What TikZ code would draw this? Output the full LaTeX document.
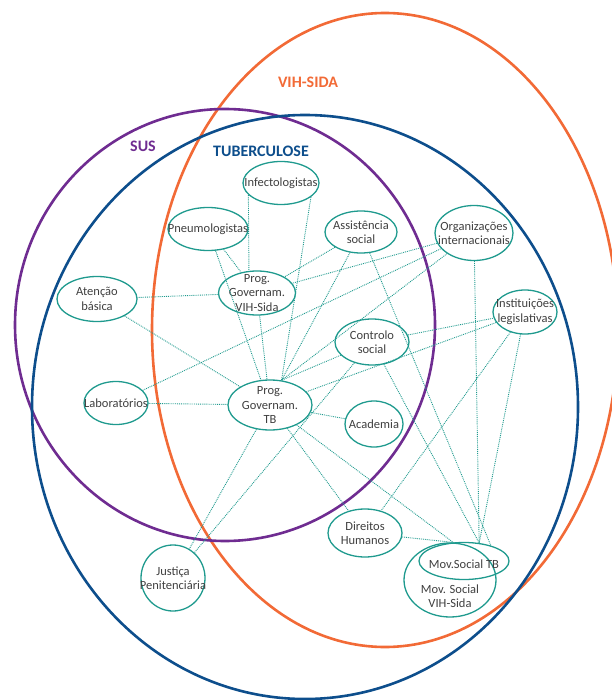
\documentclass[tikz,border=0pt]{standalone}
\usepackage{fontspec}
\setmainfont{Carlito}
\usetikzlibrary{shapes.geometric}
\definecolor{susc}{HTML}{6F2C91}
\definecolor{tbc}{HTML}{0D4E8C}
\definecolor{vihc}{HTML}{F26A36}
\definecolor{netc}{HTML}{1F9A8E}
\definecolor{txtc}{HTML}{3F3F3F}

\begin{document}
\begin{tikzpicture}[x=1pt, y=-1pt,
  every node/.style={font=\fontsize{12.5}{14.5}\selectfont},
  bubble/.style 2 args={ellipse, draw=netc, line width=1.3pt, minimum width=#1, minimum height=#2, inner sep=0pt},
  txt/.style={text=txtc, align=center},
  link/.style={netc, densely dotted, line width=0.9pt},
  ring/.style={line width=2.6pt},
  title/.style={font=\fontsize{16}{18}\selectfont\bfseries}]
\useasboundingbox (0,0) rectangle (611,700);
% the three fields
\draw[ring, vihc] (385,330) ellipse [x radius=233, y radius=317];
\draw[ring, susc] (225,325) ellipse [x radius=210, y radius=216];
\draw[ring, tbc] (305,407) ellipse [x radius=273, y radius=292];
\node[title, vihc] (vihlbl) at (308,82) {VIH-SIDA};
\node[title, susc] (suslbl) at (143,146) {SUS};
\node[title, tbc] (tblbl) at (261,151) {TUBERCULOSE};

% actors
\node[bubble={76}{43}, label={[txt]center:Infectologistas}] (infect) at (281,183) {};
\node[bubble={80}{43}, label={[txt]center:Pneumologistas}] (pneu) at (208,229) {};
\node[bubble={72}{42}, label={[txt]center:{Assistência\\social}}] (assist) at (361,232) {};
\node[bubble={78}{55}, label={[txt]center:{Organizações\\internacionais}}] (org) at (474,233) {};
\node[bubble={77}{44}, label={[txt]center:{Prog.\\Governam.\\VIH-Sida}}] (pvih) at (257,293) {};
\node[bubble={80}{45}, label={[txt]center:{Atenção\\básica}}] (ab) at (97,299) {};
\node[bubble={64}{44}, label={[txt]center:{Instituições\\legislativas}}] (inst) at (525,312) {};
\node[bubble={74}{46}, label={[txt]center:{Controlo\\social}}] (ctrl) at (372,342) {};
\node[bubble={64}{43}, label={[txt]center:Laboratórios}] (lab) at (116,403) {};
\node[bubble={84}{50}, label={[txt]center:{Prog.\\Governam.\\TB}}] (ptb) at (270,405) {};
\node[bubble={58}{46}, label={[txt]center:Academia}] (acad) at (374,424) {};
\node[bubble={74}{48}, label={[txt]center:{Direitos\\Humanos}}] (dh) at (365,533) {};
\node[bubble={92}{74}, label={[txt,yshift=-16pt]center:{Mov. Social\\VIH-Sida}}] (mvih) at (450,580) {};
\node[bubble={90}{37}, label={[txt,yshift=-3pt]center:Mov.Social TB}] (movtb) at (464,561) {};
\node[bubble={64}{66}, label={[txt]center:{Justiça\\Penitenciária}}] (just) at (173,578) {};

% ties
\draw[link] (ab) -- (pvih);
\draw[link] (ab) -- (ptb);
\draw[link] (lab) -- (ptb);
\draw[link] (lab) -- (org);
\draw[link] (pneu) -- (pvih);
\draw[link] (pneu) -- (ptb.110);
\draw[link] (infect.200) -- (pvih.110);
\draw[link] (infect.335) -- (ptb.65);
\draw[link] (assist) -- (pvih);
\draw[link] (assist) -- (ptb.65);
\draw[link] (assist) -- (movtb.30);
\draw[link] (ctrl) -- (ptb.65);
\draw[link] (ctrl) -- (inst);
\draw[link] (ctrl) -- (movtb.50);
\draw[link] (ctrl) -- (just);
\draw[link] (org) -- (ptb.65);
\draw[link] (org) -- (pvih);
\draw[link] (org) -- (movtb.50);
\draw[link] (inst) -- (ptb);
\draw[link] (inst) -- (dh);
\draw[link] (inst) -- (movtb.50);
\draw[link] (pvih) -- (ptb);
\draw[link] (ptb) -- (acad);
\draw[link] (ptb) -- (just);
\draw[link] (ptb) -- (dh);
\draw[link] (ptb) -- (movtb.120);
\draw[link] (dh) -- (movtb.120);
\end{tikzpicture}
\end{document}
